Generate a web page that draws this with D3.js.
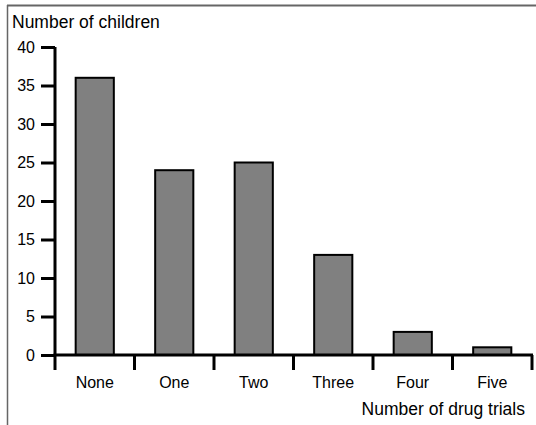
<!DOCTYPE html>
<html>
<head>
<meta charset="utf-8">
<script src="https://cdn.jsdelivr.net/npm/d3@7"></script>
<style>
  body { margin: 0; background: #fff; }
  text { font-family: "Liberation Sans", Arial, sans-serif; font-size: 16px; fill: #000; }
</style>
</head>
<body>
<div id="chart"></div>
<script>
var categories = ["None", "One", "Two", "Three", "Four", "Five"];
var children = [36, 24, 25, 13, 3, 1];
var yTicks = [0, 5, 10, 15, 20, 25, 30, 35, 40];

var W = 536, H = 425;
var margin = { top: 47, right: 4, bottom: 70, left: 55 },
    width = W - margin.left - margin.right,
    height = H - margin.top - margin.bottom;

var svg = d3.select("#chart").append("svg")
    .attr("width", W)
    .attr("height", H);

// frame (top and left edges only)
svg.append("line").attr("x1", 7).attr("x2", W).attr("y1", 5.5).attr("y2", 5.5)
    .attr("stroke", "#666").attr("stroke-width", 2);
svg.append("line").attr("x1", 7.5).attr("x2", 7.5).attr("y1", 5).attr("y2", H)
    .attr("stroke", "#666").attr("stroke-width", 1.5);

var g = svg.append("g")
    .attr("transform", "translate(" + margin.left + "," + margin.top + ")");

var x = d3.scaleBand().domain(categories).range([0, 477]).paddingInner(0.52).paddingOuter(0.26);
var y = d3.scaleLinear().domain([0, 40]).range([height, 0]);

// bars
g.selectAll("rect.bar").data(children).enter().append("rect")
    .attr("class", "bar")
    .attr("x", function (d, i) { return x(categories[i]); })
    .attr("width", x.bandwidth())
    .attr("y", function (d) { return y(d); })
    .attr("height", function (d) { return height - y(d); })
    .attr("fill", "#808080")
    .attr("stroke", "#000")
    .attr("stroke-width", 2);

// y axis
var yAxis = g.append("g").call(d3.axisLeft(y).tickValues(yTicks).tickSize(14).tickPadding(6));
yAxis.select(".domain").attr("stroke-width", 3).attr("d", "M0," + height + "V" + y(40));
yAxis.selectAll(".tick line").attr("stroke-width", 3);
yAxis.selectAll("text").style("font-size", "16px").attr("font-family", null);

// x axis: ticks at band edges
var edges = d3.range(categories.length + 1).map(function (i) { return i * x.step(); });
var xa = g.append("g").attr("transform", "translate(0," + height + ")");
xa.append("line").attr("x1", -1.5).attr("x2", 478).attr("stroke", "#000").attr("stroke-width", 3);
xa.selectAll("line.tk").data(edges).enter().append("line")
    .attr("class", "tk")
    .attr("x1", function (d) { return d; }).attr("x2", function (d) { return d; })
    .attr("y1", 0).attr("y2", 15)
    .attr("stroke", "#000").attr("stroke-width", 3);
xa.selectAll("text.cat").data(categories).enter().append("text")
    .attr("class", "cat")
    .attr("x", function (d) { return x(d) + x.bandwidth() / 2; })
    .attr("y", 33)
    .attr("text-anchor", "middle")
    .text(function (d) { return d; });

// axis titles
svg.append("text").attr("x", 12).attr("y", 28).style("font-size", "17.5px").text("Number of children");
svg.append("text").attr("x", 525).attr("y", 415).attr("text-anchor", "end")
    .style("font-size", "17.5px").text("Number of drug trials");
</script>
</body>
</html>
